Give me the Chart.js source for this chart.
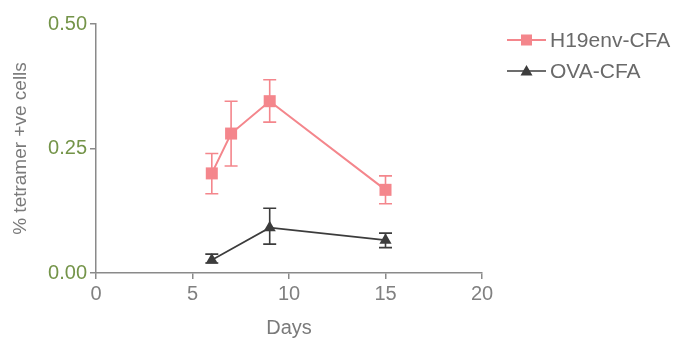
<!DOCTYPE html>
<html>
<head>
<meta charset="utf-8">
<script src="https://cdn.jsdelivr.net/npm/chart.js@4"></script>
<style>
  html, body { margin: 0; padding: 0; background: #fff; }
  #wrap { width: 676px; height: 340px; }
</style>
</head>
<body>
<div id="wrap"><canvas id="c" width="676" height="340"></canvas></div>
<script>
// Days sampled for each group
const h19Days = [6, 7, 9, 15];
const ovaDays = [6, 9, 15];

// Mean % tetramer+ cells
const h19Mean = [0.200, 0.280, 0.345, 0.167];
const ovaMean = [0.026, 0.091, 0.066];

// Error bar extents (upper / lower)
const h19Upper = [0.240, 0.345, 0.388, 0.195];
const h19Lower = [0.159, 0.215, 0.303, 0.139];
const ovaUpper = [0.038, 0.130, 0.080];
const ovaLower = [0.020, 0.058, 0.051];

const seriesNames = ['H19env-CFA', 'OVA-CFA'];
const yTicks = [0, 0.25, 0.5];
const xTicks = [0, 5, 10, 15, 20];

const PINK = '#f4868c';
const DARK = '#3c3c3c';
const AXIS = '#8a8a8a';
const TICKTXT = '#749449';
const TITLETXT = '#7a7a7a';
const FONT = '"Liberation Sans", Arial, sans-serif';

function pts(xs, ys) { return xs.map((x, i) => ({ x: x, y: ys[i] })); }

// Draws vertical error bars with caps using the chart scales
const errorBars = {
  id: 'errorBars',
  afterDatasetsDraw(chart) {
    const { ctx, scales: { x, y } } = chart;
    chart.data.datasets.forEach((ds) => {
      const cap = 6.5;
      ctx.save();
      ctx.strokeStyle = ds.borderColor;
      ctx.lineWidth = 1.6;
      ds.data.forEach((p, i) => {
        const px = x.getPixelForValue(p.x);
        const yt = y.getPixelForValue(ds.upper[i]);
        const yb = y.getPixelForValue(ds.lower[i]);
        ctx.beginPath();
        ctx.moveTo(px, yt); ctx.lineTo(px, yb);
        ctx.moveTo(px - cap, yt); ctx.lineTo(px + cap, yt);
        ctx.moveTo(px - cap, yb); ctx.lineTo(px + cap, yb);
        ctx.stroke();
      });
      ctx.restore();
    });
  }
};

// Legend drawn as line-through-marker entries on the right
const sideLegend = {
  id: 'sideLegend',
  afterDraw(chart) {
    const { ctx } = chart;
    ctx.save();
    chart.data.datasets.forEach((ds, i) => {
      const cy = 40 + i * 31;
      const x0 = 507, x1 = 546, xm = (x0 + x1) / 2;
      ctx.strokeStyle = ds.borderColor;
      ctx.lineWidth = ds.borderWidth;
      ctx.beginPath(); ctx.moveTo(x0, cy); ctx.lineTo(x1, cy); ctx.stroke();
      ctx.fillStyle = ds.borderColor;
      if (ds.pointStyle === 'rect') {
        ctx.fillRect(xm - 5.5, cy - 5.5, 11, 11);
      } else {
        ctx.beginPath();
        ctx.moveTo(xm, cy - 6);
        ctx.lineTo(xm + 6, cy + 4.5);
        ctx.lineTo(xm - 6, cy + 4.5);
        ctx.closePath(); ctx.fill();
      }
      ctx.fillStyle = '#6a6a6a';
      ctx.font = '21px ' + FONT;
      ctx.textBaseline = 'middle';
      ctx.textAlign = 'left';
      ctx.fillText(seriesNames[i], 550, cy + 1);
    });
    ctx.restore();
  }
};

new Chart(document.getElementById('c'), {
  type: 'line',
  data: {
    datasets: [
      {
        label: seriesNames[0],
        data: pts(h19Days, h19Mean),
        upper: h19Upper, lower: h19Lower,
        borderColor: PINK, backgroundColor: PINK,
        borderWidth: 2, pointStyle: 'rect', pointRadius: 8.5,
        pointBorderWidth: 0, tension: 0
      },
      {
        label: seriesNames[1],
        data: pts(ovaDays, ovaMean),
        upper: ovaUpper, lower: ovaLower,
        borderColor: DARK, backgroundColor: DARK,
        borderWidth: 1.6, pointStyle: 'triangle', pointRadius: 7,
        pointBorderWidth: 0, tension: 0
      }
    ]
  },
  options: {
    responsive: false,
    animation: false,
    layout: { padding: { top: 24, right: 194, left: 0, bottom: 0 } },
    plugins: { legend: { display: false }, tooltip: { enabled: false } },
    scales: {
      x: {
        type: 'linear', min: 0, max: 20,
        afterBuildTicks: (s) => { s.ticks = xTicks.map(v => ({ value: v })); },
        afterFit: (s) => { s.height = 67; },
        grid: { display: true, drawOnChartArea: false, color: AXIS, tickLength: 6, lineWidth: 1.5 },
        border: { color: AXIS, width: 1.5 },
        ticks: { color: '#808080', font: { family: FONT, size: 20 }, padding: 3 },
        title: { display: true, text: 'Days', color: TITLETXT, font: { family: FONT, size: 20 }, padding: { top: 0, bottom: 0 } }
      },
      y: {
        min: 0, max: 0.5,
        afterBuildTicks: (s) => { s.ticks = yTicks.map(v => ({ value: v })); },
        afterFit: (s) => { s.width = 96; },
        grid: { display: true, drawOnChartArea: false, color: AXIS, tickLength: 6, lineWidth: 1.5 },
        border: { color: AXIS, width: 1.5 },
        ticks: { color: TICKTXT, font: { family: FONT, size: 20 }, padding: 3,
                 callback: (v) => Number(v).toFixed(2) },
        title: { display: true, text: '% tetramer +ve cells', color: TITLETXT, font: { family: FONT, size: 19 }, padding: { top: 9, bottom: 0 } }
      }
    }
  },
  plugins: [errorBars, sideLegend]
});
</script>
</body>
</html>
